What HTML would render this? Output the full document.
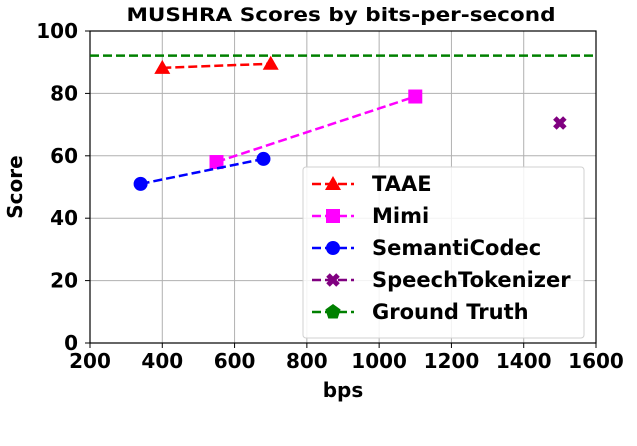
<!DOCTYPE html>
<html><head><meta charset="utf-8"><style>
body{margin:0;background:#fff;}
svg text{font-family:"DejaVu Sans","Liberation Sans",sans-serif;font-weight:bold;}
</style></head><body>
<svg id="chart" width="637" height="441" xmlns="http://www.w3.org/2000/svg"></svg>
<script>
const xTicks=[200,400,600,800,1000,1200,1400,1600];
const yTicks=[0,20,40,60,80,100];
const taaeX=[400,700], taaeY=[88.2,89.5];
const mimiX=[550,1100], mimiY=[58,79];
const semX=[340,680], semY=[51,59];
const stX=[1500], stY=[70.5];
const gtY=92.1;
const names=["TAAE","Mimi","SemantiCodec","SpeechTokenizer","Ground Truth"];
const L=90,R=596,T=31,B=343;
const xs=v=>L+(v-200)/1400*(R-L);
const ys=v=>B-v/100*(B-T);
const svg=document.getElementById('chart');
const NS='http://www.w3.org/2000/svg';
function mk(tag,attrs,parent){const e=document.createElementNS(NS,tag);for(const k in attrs)e.setAttribute(k,attrs[k]);(parent||svg).appendChild(e);return e;}
xTicks.forEach(t=>{const g=mk('line',{x1:xs(t),x2:xs(t),y1:T,y2:B,stroke:'#b0b0b0','stroke-width':1});


mk('line',{x1:xs(t),x2:xs(t),y1:B,y2:B+5,stroke:'#000','stroke-width':1});
const tx=mk('text',{x:xs(t),y:B+25,'text-anchor':'middle','font-size':20});tx.textContent=t;

});
yTicks.forEach(t=>{const g=mk('line',{x1:L,x2:R,y1:ys(t),y2:ys(t),stroke:'#b0b0b0','stroke-width':1});


mk('line',{x1:L-5,x2:L,y1:ys(t),y2:ys(t),stroke:'#000','stroke-width':1});
const tx=mk('text',{x:L-12,y:ys(t)+7,'text-anchor':'end','font-size':20});tx.textContent=t;

});
const fr=mk('rect',{x:L,y:T,width:R-L,height:B-T,fill:'none',stroke:'#000','stroke-width':1.2});


function marker(type,x,y,c){
 if(type==='tri')return mk('polygon',{points:`${x},${y-8} ${x-8},${y+6} ${x+8},${y+6}`,fill:c});
 if(type==='sq')return mk('rect',{x:x-7,y:y-7,width:14,height:14,fill:c});
 if(type==='circ')return mk('circle',{cx:x,cy:y,r:7,fill:c});
 if(type==='x')return mk('path',{d:`M${x-5},${y-5}L${x+5},${y+5}M${x+5},${y-5}L${x-5},${y+5}`,stroke:c,'stroke-width':5});
 if(type==='pent'){let p=[];for(let i=0;i<5;i++){const a=-Math.PI/2+i*2*Math.PI/5;p.push((x+8*Math.cos(a))+','+(y+8*Math.sin(a)));}return mk('polygon',{points:p.join(' '),fill:c});}
}
const gt=mk('line',{x1:L,x2:R,y1:ys(gtY),y2:ys(gtY),stroke:'#008000','stroke-width':2.5,'stroke-dasharray':'9,4'});


function series(X,Y,c,type,nm){
 if(X.length>1){const pl=mk('polyline',{points:X.map((x,i)=>xs(x)+','+ys(Y[i])).join(' '),fill:'none',stroke:c,'stroke-width':2.5,'stroke-dasharray':'9,4'});
 
 }
 X.forEach((x,i)=>{const m=marker(type,xs(x),ys(Y[i]),c);
 
 });
}
series(taaeX,taaeY,'#ff0000','tri','taae');
series(mimiX,mimiY,'#ff00ff','sq','mimi');
series(semX,semY,'#0000ff','circ','semanticodec');
series(stX,stY,'#800080','x','speechtokenizer');
const lg=mk('rect',{x:303,y:167,width:281,height:171,rx:3,fill:'#fff','fill-opacity':0.85,stroke:'#d0d0d0'});


const cols=['#ff0000','#ff00ff','#0000ff','#800080','#008000'],types=['tri','sq','circ','x','pent'];
names.forEach((n,i)=>{const y=184+i*32;
 mk('line',{x1:312,x2:354,y1:y,y2:y,stroke:cols[i],'stroke-width':2.5,'stroke-dasharray':'9,4'});
 marker(types[i],333,y,cols[i]);
 const t=mk('text',{x:372,y:y+7,'font-size':21});t.textContent=n;
 
 });
const ti=mk('text',{x:341,y:21,'text-anchor':'middle','font-size':19,textLength:429,lengthAdjust:'spacingAndGlyphs'});ti.textContent='MUSHRA Scores by bits-per-second';


const xl=mk('text',{x:343,y:397,'text-anchor':'middle','font-size':20});xl.textContent='bps';


const yl=mk('text',{x:22,y:187,'text-anchor':'middle','font-size':20,transform:'rotate(-90 22 187)'});yl.textContent='Score';


</script>
</body></html>
